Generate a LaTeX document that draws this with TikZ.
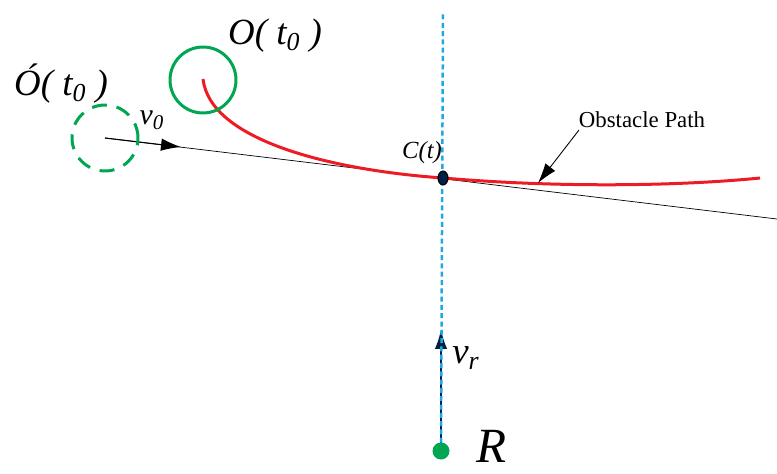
\documentclass[tikz,border=0pt]{standalone}
\usepackage{fontspec}
\setmainfont{Liberation Serif}
\usetikzlibrary{arrows.meta}

\definecolor{robgreen}{RGB}{0,166,81}
\definecolor{pathred}{RGB}{237,28,36}
\definecolor{scanblue}{RGB}{30,170,225}
\definecolor{navy}{RGB}{0,30,70}

\begin{document}
\begin{tikzpicture}[
  x=0.02cm, y=-0.02cm,
  big/.style={font=\fontsize{21}{24}\selectfont\itshape, inner sep=0pt},
  mid/.style={font=\fontsize{17}{20}\selectfont\itshape, inner sep=0pt},
  small/.style={font=\fontsize{13}{15}\selectfont, inner sep=0pt},
  every node/.style={inner sep=0pt}]
\useasboundingbox (0,0) rectangle (777,473);

\coordinate (R) at (441,451);
\coordinate (C) at (443,178);
\coordinate (O) at (203,80);
\coordinate (Op) at (105,138);
\coordinate (lineend) at (777,219);
\coordinate (v0tip) at (181,147);
\coordinate (vrtip) at (441,329);
\coordinate (scantop) at (443,12);
\coordinate (pathend) at (760,178);
\coordinate (pathhit) at (538,183);
\coordinate (pathtail) at (579,130);

% velocity of the obstacle
\draw[line width=0.4pt] (Op) -- (lineend);
\draw[line width=0.6pt, -{Latex[length=0.4cm,width=0.25cm]}] (Op) -- (v0tip);

% obstacle path
\draw[pathred, line width=0.06cm] (203,79) .. controls (210,140) and (330,170) .. (C)
  .. controls (560,188) and (680,186) .. (pathend);

% obstacle at t0 and its virtual copy
\draw[robgreen, line width=0.06cm] (O) circle (0.66cm);
\draw[robgreen, line width=0.06cm, dash pattern=on 0.3cm off 0.2cm] (Op) circle (0.66cm);

% robot and its velocity
\draw[navy, line width=0.05cm, -{Latex[length=0.4cm,width=0.25cm]}] (R) -- (vrtip);
\draw[scanblue, line width=0.05cm, dash pattern=on 0.1cm off 0.066cm] (R) -- (scantop);
\fill[robgreen] (R) circle (0.17cm);
\filldraw[fill=navy, draw=black, line width=0.6pt] (C) ellipse (0.1cm and 0.14cm);

% labels
\node[big] (lO) at (275,36) {O( t\textsubscript{0} )};
\node[big] (lOp) at (61,84) {\'O( t\textsubscript{0} )};
\node[mid] (lv0) at (152,120) {v\textsubscript{0}};
\node[font=\fontsize{21}{24}\selectfont\itshape] (lvr) at (466,358) {v\textsubscript{r}};
\node[font=\fontsize{28}{30}\selectfont\itshape] (lR) at (492,446) {R};
\node[font=\fontsize{14}{17}\selectfont\itshape] (lC) at (422,153) {C(t)};
\node[small] (lpath) at (642,120) {Obstacle Path};

\draw[line width=0.5pt, -{Latex[length=0.4cm,width=0.25cm]}] (pathtail) -- (pathhit);
\end{tikzpicture}
\end{document}
